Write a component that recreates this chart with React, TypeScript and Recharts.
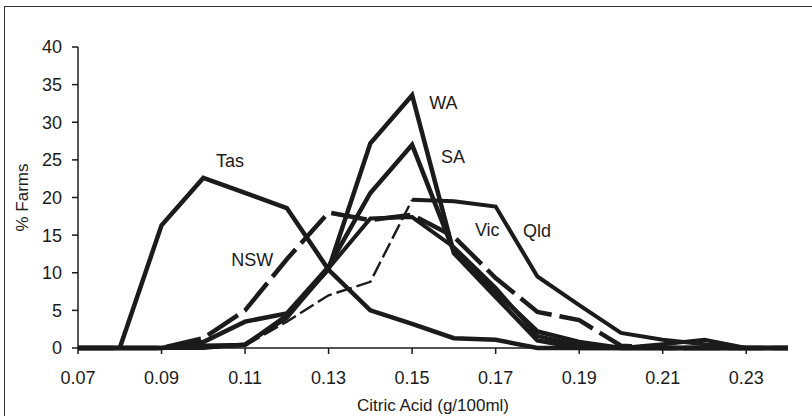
import React from 'react';
import { LineChart, Line, XAxis, YAxis, ReferenceDot } from 'recharts';

document.body.style.margin = '0';

// citric acid bins (g/100ml)
const citric = [0.07, 0.08, 0.09, 0.1, 0.11, 0.12, 0.13, 0.14, 0.15, 0.16, 0.17, 0.18, 0.19, 0.2, 0.21, 0.22, 0.23, 0.24];

// % farms per state
const tas = [0, 0, 16.3, 22.6, 20.6, 18.6, 10.4, 5.0, 3.2, 1.3, 1.1, 0, 0, 0, 0, 0, 0, 0];
const wa = [0, 0, 0, 0.3, 0.4, 4.3, 10.5, 27.2, 33.6, 12.6, 6.8, 1.0, 0, 0, 0, 0, 0, 0];
const sa = [0, 0, 0, 0.8, 3.5, 4.6, 10.8, 20.6, 27.0, 12.8, 7.5, 2.2, 0.8, 0, 0, 0, 0, 0];
const nsw = [0, 0, 0, 1.3, 5.0, 11.8, 18.0, 17.0, 17.7, 14.8, 9.3, 4.8, 3.7, 0.3, 0, 0, 0, 0];
const vic = [0, 0, 0, 0, 0.5, 4.0, 10.6, 17.2, 17.4, 13.4, 8.0, 1.6, 0.3, 0, 0.5, 1.1, 0, 0];
const qld = [0, 0, 0, 0, 0.3, 3.5, 7.0, 8.8, 19.7, 19.5, 18.8, 9.5, 5.7, 2.0, 1.1, 0.5, 0, 0];

const xTicks = [0.07, 0.09, 0.11, 0.13, 0.15, 0.17, 0.19, 0.21, 0.23];
const yTicks = [0, 5, 10, 15, 20, 25, 30, 35, 40];

// label anchors in data units
const stateLabels = [
  { name: 'Tas', x: 0.1064, y: 24.9 },
  { name: 'NSW', x: 0.1117, y: 11.7 },
  { name: 'WA', x: 0.1575, y: 32.6 },
  { name: 'SA', x: 0.1598, y: 25.5 },
  { name: 'Vic', x: 0.168, y: 15.7 },
  { name: 'Qld', x: 0.1799, y: 15.6 },
];

// qld is drawn thin/broken on the rising side, solid after the 0.15 bin
const data = citric.map((c, i) => ({
  c,
  tas: tas[i],
  wa: wa[i],
  sa: sa[i],
  nsw: nsw[i],
  vic: vic[i],
  qldLow: c <= 0.1501 ? qld[i] : null,
  qldHigh: c >= 0.1499 ? qld[i] : null,
}));

const INK = '#1b1b1b';
const FONT = '"Liberation Sans Narrow", "Liberation Sans", Arial, sans-serif';

export default function App() {
  return (
    <div style={{ position: 'relative', width: 812, height: 416, background: '#fff', overflow: 'hidden' }}>
      <div
        style={{
          position: 'absolute',
          left: 4,
          top: 6,
          width: 820,
          height: 420,
          borderTop: '1.5px solid #333',
          borderLeft: '1.5px solid #333',
        }}
      />
      <LineChart
        width={812}
        height={416}
        data={data}
        margin={{ top: 47, right: 24, left: 0, bottom: 2 }}
        style={{ fontFamily: FONT }}
      >
        <XAxis
          dataKey="c"
          type="number"
          domain={[0.07, 0.24]}
          ticks={xTicks}
          tickFormatter={(v: number) => v.toFixed(2)}
          tick={{ fill: INK, fontSize: 18 }}
          tickSize={6}
          tickMargin={17}
          stroke={INK}
          strokeWidth={1.5}
          height={66}
          label={{ value: 'Citric Acid (g/100ml)', position: 'insideBottom', offset: 3, fill: INK, fontSize: 17 }}
        />
        <YAxis
          type="number"
          domain={[0, 40]}
          ticks={yTicks}
          tick={{ fill: INK, fontSize: 18 }}
          tickSize={6}
          tickMargin={10}
          stroke={INK}
          strokeWidth={1.5}
          width={78}
          label={{
            value: '% Farms',
            angle: -90,
            position: 'insideLeft',
            offset: 22,
            fill: INK,
            fontSize: 17,
            style: { textAnchor: 'middle' },
          }}
        />
        <Line dataKey="tas" stroke={INK} strokeWidth={4.5} dot={false} isAnimationActive={false} />
        <Line dataKey="wa" stroke={INK} strokeWidth={4.5} dot={false} isAnimationActive={false} />
        <Line dataKey="sa" stroke={INK} strokeWidth={4.5} dot={false} isAnimationActive={false} />
        <Line dataKey="vic" stroke={INK} strokeWidth={4} dot={false} isAnimationActive={false} />
        <Line dataKey="nsw" stroke={INK} strokeWidth={4.5} strokeDasharray="36 8" dot={false} isAnimationActive={false} />
        <Line dataKey="qldLow" stroke={INK} strokeWidth={2.4} strokeDasharray="16 5" dot={false} connectNulls={false} isAnimationActive={false} />
        <Line dataKey="qldHigh" stroke={INK} strokeWidth={4} dot={false} connectNulls={false} isAnimationActive={false} />
        {stateLabels.map((s) => (
          <ReferenceDot
            key={s.name}
            x={s.x}
            y={s.y}
            r={0}
            stroke="none"
            fill="none"
            label={{ value: s.name, position: 'center', fill: INK, fontSize: 18 }}
          />
        ))}
      </LineChart>
    </div>
  );
}
